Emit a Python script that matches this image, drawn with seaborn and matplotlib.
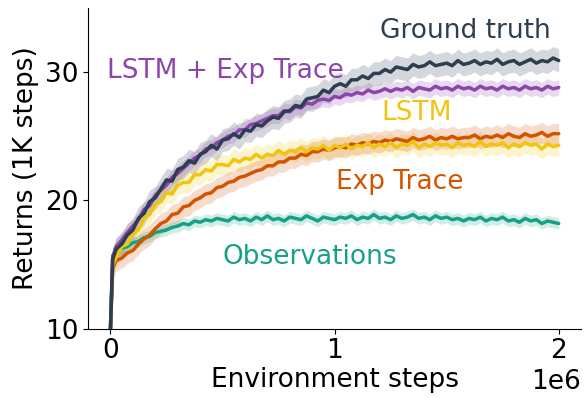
import numpy as np
import pandas as pd
import matplotlib
matplotlib.use("Agg")
import matplotlib.pyplot as plt
import seaborn as sns

# Evaluation points: environment steps (start, 10k, then every 25k up to 2M)
steps = np.concatenate(([0, 10_000], np.linspace(25_000, 2_000_000, 80)))

ground_truth = [
    10.0, 15.4, 16.2, 16.6, 17.3, 17.7, 18.6, 19.0, 19.9, 20.2, 20.9,
    21.6, 21.5, 22.4, 22.6, 23.1, 22.9, 23.6, 23.8, 24.3, 24.0,
    24.7, 24.8, 25.2, 24.9, 25.5, 25.4, 25.9, 25.8, 26.2, 26.5,
    26.4, 26.9, 27.0, 27.4, 27.3, 27.9, 28.0, 28.1, 28.6, 28.4,
    28.9, 29.1, 28.9, 29.4, 29.4, 29.7, 29.5, 29.9, 29.9, 30.2,
    30.0, 30.4, 30.3, 30.2, 30.6, 30.4, 30.5, 30.8, 30.5, 30.6,
    30.7, 30.5, 30.9, 30.6, 30.7, 30.9, 30.6, 30.8, 30.7, 31.0,
    30.6, 30.8, 30.9, 30.6, 30.8, 31.0, 30.7, 30.9, 30.8, 31.1,
    30.9,
]

lstm_exp_trace = [
    10.0, 15.6, 16.4, 16.9, 17.5, 18.0, 18.5, 19.3, 19.6, 20.4, 20.8,
    21.2, 21.8, 22.1, 22.5, 22.9, 23.3, 23.5, 24.0, 24.1, 24.5,
    24.7, 25.0, 25.1, 25.5, 25.5, 25.9, 26.0, 26.2, 26.4, 26.6,
    26.6, 27.0, 26.9, 27.3, 27.2, 27.6, 27.5, 27.8, 27.9, 27.8,
    28.1, 28.0, 28.3, 28.2, 28.4, 28.3, 28.6, 28.4, 28.5, 28.7,
    28.5, 28.7, 28.6, 28.8, 28.5, 28.8, 28.7, 28.6, 28.9, 28.7,
    28.8, 28.6, 28.9, 28.7, 28.8, 28.6, 28.9, 28.7, 28.8, 28.6,
    28.9, 28.7, 28.8, 28.6, 28.9, 28.7, 28.8, 28.6, 28.9, 28.7,
    28.8,
]

lstm = [
    10.0, 14.9, 15.6, 16.4, 16.6, 17.4, 17.7, 18.6, 18.9, 19.7, 19.9,
    20.6, 20.5, 21.2, 21.4, 21.4, 22.0, 22.0, 22.4, 22.3, 22.8,
    22.8, 22.7, 23.2, 23.0, 23.3, 23.2, 23.6, 23.3, 23.6, 23.5,
    23.9, 23.6, 23.9, 23.8, 24.1, 23.8, 24.1, 24.0, 24.3, 23.9,
    24.3, 24.1, 24.4, 24.0, 24.3, 24.2, 24.5, 24.1, 24.4, 24.2,
    24.5, 24.1, 24.4, 24.3, 24.6, 24.1, 24.4, 24.2, 24.5, 24.3,
    24.4, 24.1, 24.5, 24.3, 24.4, 24.2, 24.6, 24.2, 24.4, 24.3,
    24.5, 24.1, 24.4, 24.2, 24.5, 24.3, 24.4, 24.0, 24.4, 24.2,
    24.3,
]

exp_trace = [
    10.0, 14.7, 15.3, 15.5, 15.9, 16.1, 16.6, 17.0, 17.3, 17.8, 18.2,
    18.4, 18.9, 19.0, 19.5, 19.6, 20.0, 20.2, 20.5, 20.6, 21.0,
    21.1, 21.4, 21.5, 21.8, 21.9, 22.1, 22.3, 22.4, 22.7, 22.7,
    23.0, 23.0, 23.3, 23.3, 23.6, 23.5, 23.8, 23.8, 24.0, 23.9,
    24.1, 24.2, 24.1, 24.4, 24.3, 24.5, 24.4, 24.6, 24.5, 24.7,
    24.6, 24.8, 24.7, 24.6, 24.9, 24.7, 24.8, 25.0, 24.7, 24.9,
    24.8, 25.0, 24.8, 24.9, 24.9, 25.1, 24.8, 25.0, 24.9, 25.1,
    24.9, 25.2, 25.0, 24.9, 25.2, 25.0, 25.1, 25.3, 25.0, 25.2,
    25.2,
]

observations = [
    10.0, 15.7, 16.0, 16.3, 16.4, 16.7, 16.8, 17.1, 17.2, 17.5, 17.6,
    17.7, 17.9, 18.0, 18.2, 18.1, 18.4, 18.3, 18.5, 18.4, 18.6,
    18.5, 18.4, 18.7, 18.5, 18.6, 18.4, 18.7, 18.5, 18.8, 18.5,
    18.6, 18.4, 18.7, 18.6, 18.5, 18.8, 18.6, 18.4, 18.7, 18.6,
    18.5, 18.7, 18.6, 18.8, 18.5, 18.7, 18.6, 18.9, 18.6, 18.7,
    18.5, 18.8, 18.6, 18.7, 18.9, 18.6, 18.7, 18.5, 18.8, 18.6,
    18.7, 18.5, 18.6, 18.4, 18.6, 18.5, 18.7, 18.4, 18.6, 18.5,
    18.7, 18.4, 18.5, 18.3, 18.6, 18.4, 18.5, 18.2, 18.4, 18.3,
    18.2,
]

methods = ["Ground truth", "LSTM + Exp Trace", "LSTM", "Exp Trace", "Observations"]
series = [ground_truth, lstm_exp_trace, lstm, exp_trace, observations]
# half-width of the shaded spread around each mean curve
spread = [0.9, 0.6, 0.8, 0.8, 0.45]

colors = {
    "Ground truth": "#2c3e50",
    "LSTM + Exp Trace": "#8e44ad",
    "LSTM": "#f1c40f",
    "Exp Trace": "#d35400",
    "Observations": "#16a085",
}

df = pd.concat(
    [pd.DataFrame({"steps": steps, "returns": vals, "method": m})
     for m, vals in zip(methods, series)],
    ignore_index=True,
)

sns.set_style("ticks", {"axes.edgecolor": "black", "text.color": "black",
                        "xtick.color": "black", "ytick.color": "black",
                        "axes.labelcolor": "black"})
plt.rcParams["font.family"] = ["DejaVu Sans"]
FS = 19

fig, ax = plt.subplots(figsize=(5.87, 3.98), dpi=100)
fig.subplots_adjust(left=0.150, right=0.990, bottom=0.174, top=0.98)

for m, vals, s in zip(methods, series, spread):
    v = np.asarray(vals)
    ax.fill_between(steps, v - s, v + s, color=colors[m], alpha=0.2, lw=0)

# draw lowest-ranked curves first so the top performers sit above
draw_order = ["Observations", "Exp Trace", "LSTM", "LSTM + Exp Trace", "Ground truth"]
for m in draw_order:
    sns.lineplot(data=df[df["method"] == m], x="steps", y="returns",
                 color=colors[m], lw=2.5, ax=ax, legend=False, errorbar=None)

ax.set_xlim(-100_000, 2_100_000)
ax.set_ylim(10, 35)
ax.set_xticks([0, 1_000_000, 2_000_000])
ax.set_yticks([10, 20, 30])
ax.tick_params(labelsize=FS, colors="black")
ax.xaxis.get_offset_text().set_fontsize(FS)
ax.set_xlabel("Environment steps", fontsize=FS, labelpad=2, color="black")
ax.set_ylabel("Returns (1K steps)", fontsize=FS, color="black")
sns.despine(ax=ax)

ax.text(1_966_000, 33.2, "Ground truth", color=colors["Ground truth"],
        fontsize=FS, ha="right", va="center")
ax.text(-17_000, 30.1, "LSTM + Exp Trace", color=colors["LSTM + Exp Trace"],
        fontsize=FS, ha="left", va="center")
ax.text(1_207_000, 26.85, "LSTM", color=colors["LSTM"],
        fontsize=FS, ha="left", va="center")
ax.text(1_006_000, 21.4, "Exp Trace", color=colors["Exp Trace"],
        fontsize=FS, ha="left", va="center")
ax.text(500_000, 15.6, "Observations", color=colors["Observations"],
        fontsize=FS, ha="left", va="center")

fig.savefig("out.png", dpi=100)
